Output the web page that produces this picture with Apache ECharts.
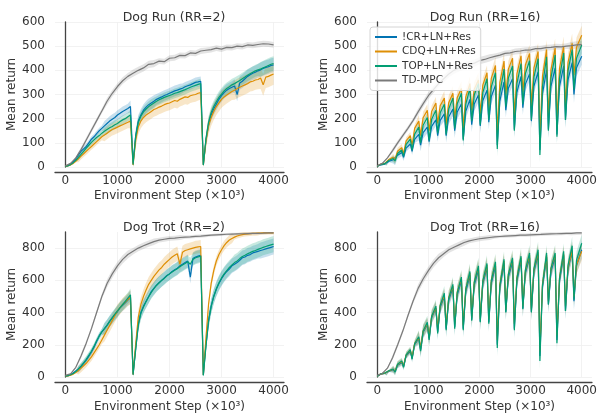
<!DOCTYPE html>
<html><head><meta charset="utf-8">
<script src="https://cdn.jsdelivr.net/npm/echarts@6/dist/echarts.min.js"></script>
<style>html,body{margin:0;padding:0;background:#fff}#c{width:600px;height:414px}</style>
</head><body><div id="c"></div>
<script>
// ---------- data ----------
const NAMES = ['!CR+LN+Res', 'CDQ+LN+Res', 'TOP+LN+Res', 'TD-MPC'];
const X_TICKS = [0, 1000, 2000, 3000, 4000];
const RUN_Y_TICKS = [0, 100, 200, 300, 400, 500, 600];
const TROT_Y_TICKS = [0, 200, 400, 600, 800];

const X50 = [0,50,100,150,200,250,300,350,400,450,500,550,600,650,700,750,800,850,900,950,
1000,1050,1100,1150,1200,1250,1300,1350,1400,1450,1500,1550,1600,1650,1700,1750,1800,1850,1900,1950,
2000,2050,2100,2150,2200,2250,2300,2350,2400,2450,2500,2550,2600,2650,2700,2750,2800,2850,2900,2950,
3000,3050,3100,3150,3200,3250,3300,3350,3400,3450,3500,3550,3600,3650,3700,3750,3800,3850,3900,3950,4000];
const X100 = [0,100,200,300,400,500,600,700,800,900,1000,1100,1200,1300,1400,1500,1600,1700,1800,1900,
2000,2100,2200,2300,2400,2500,2600,2700,2800,2900,3000,3100,3200,3300,3400,3500,3600,3700,3800,3900,4000];
const X16 = [0,65,147, 182,232,313, 348,398,480, 515,565,647, 682,732,813, 848,898,980,
1015,1065,1147, 1182,1232,1313, 1348,1398,1480, 1515,1565,1647, 1682,1732,1813, 1848,1898,1980,
2015,2065,2147, 2182,2232,2313, 2348,2398,2480, 2515,2565,2647, 2682,2732,2813, 2848,2898,2980,
3015,3065,3147, 3182,3232,3313, 3348,3398,3480, 3515,3565,3647, 3682,3732,3813, 3848,3898,4000];

// Dog Run (RR=2)
const RUN2_ICR = [3,6,12,22,35,50,65,75,85,100,115,125,138,150,160,170,180,190,198,205,215,222,230,236,242,250,
15,
130,190,215,235,248,258,265,272,280,285,290,296,300,305,310,315,318,322,326,332,336,340,345,350,352,355,
10,
110,175,215,240,260,280,295,308,318,325,330,335,300,348,355,365,375,382,388,392,398,402,408,412,415,420,422];
const RUN2_CDQ = [3,5,9,15,24,34,45,55,65,75,85,95,105,115,125,132,140,148,155,160,165,170,175,180,185,190,
8,
110,165,190,205,215,222,230,238,242,248,252,258,262,265,270,275,272,280,285,290,288,295,298,300,305,308,
8,
105,170,205,230,250,265,280,290,298,305,312,318,325,330,335,340,345,352,355,360,362,368,340,372,375,380,385];
const RUN2_TOP = [3,5,10,18,28,40,52,65,78,90,102,112,122,130,140,148,155,162,168,175,180,188,195,200,208,215,
10,
125,185,210,228,240,250,258,265,272,278,283,288,292,296,300,305,308,312,316,320,325,330,334,338,342,345,
8,
115,185,225,250,270,288,302,315,325,332,340,345,352,358,365,372,380,386,392,398,402,405,410,415,420,425,428];
const RUN2_TDMPC = [5,15,38,72,112,152,192,232,272,305,333,357,375,388,400,410,425,428,438,436,
450,452,462,461,472,470,480,483,486,492,488,495,494,500,498,505,503,507,510,509,505];

// Dog Run (RR=16)  (per reset period: value after reset, recovering, before next reset)
const RUN16_ICR = [3,9,12, 10,24,30, 22,49,60, 40,78,95, 65,114,135, 90,142,165,
105,168,195, 130,193,220, 130,207,240, 150,228,262, 115,230,280, 175,261,298,
170,274,318, 185,292,338, 90,273,352, 235,326,365, 155,309,375, 245,343,385,
190,334,395, 70,302,402, 155,334,410, 135,333,418, 195,361,432, 300,411,458];
const RUN16_CDQ = [3,11,15, 12,32,40, 30,65,80, 55,108,130, 90,160,190, 130,204,235,
150,230,265, 180,254,285, 175,266,305, 200,288,325, 160,290,345, 235,322,360,
220,339,390, 245,368,420, 140,349,438, 300,405,450, 210,385,460, 310,422,470,
250,410,478, 120,376,486, 210,403,492, 190,407,500, 250,433,512, 380,496,545];
const RUN16_TOP = [3,10,14, 10,28,35, 25,56,70, 45,94,115, 70,136,165, 100,173,205,
110,198,235, 140,224,260, 135,240,285, 160,262,305, 110,260,325, 190,298,345,
175,308,365, 195,332,390, 75,306,405, 250,368,418, 150,345,428, 260,386,440,
195,372,448, 50,334,456, 150,369,463, 125,368,472, 195,399,486, 320,450,505];
const RUN16_TDMPC = [5,15,38,68,100,130,160,192,228,262,295,320,345,365,385,400,410,418,425,430,
440,445,452,458,463,470,472,478,480,484,485,490,490,494,495,498,497,500,502,505,506];

// Dog Trot (RR=2)
const TROT2_ICR = [5,8,15,25,38,50,65,85,105,130,155,185,220,255,280,300,320,345,365,385,405,430,445,460,478,495,
15,
180,330,400,440,470,500,530,550,570,585,600,615,630,640,655,665,675,690,700,710,720,620,735,745,750,755,
12,
200,350,440,500,545,580,610,635,655,670,690,700,710,725,740,745,755,760,770,775,780,785,790,795,800,805,810];
const TROT2_CDQ = [5,7,12,18,28,40,55,70,85,105,125,150,175,200,230,260,290,320,350,380,410,430,450,465,480,495,
15,
200,370,450,500,540,575,600,625,645,665,680,700,715,730,745,755,765,700,775,785,790,795,800,805,808,810,
12,
240,450,580,660,720,760,790,815,835,850,860,868,875,880,884,887,888,890,891,892,893,893,894,894,895,895,895];
const TROT2_TOP = [5,8,14,22,34,50,68,88,110,135,160,190,225,255,280,300,322,345,368,390,410,430,450,470,490,510,
15,
170,320,395,435,468,498,525,548,568,585,600,612,628,640,652,662,672,685,695,705,715,700,730,740,745,750,
10,
190,345,435,500,548,585,615,640,660,680,695,710,720,735,748,755,765,772,780,785,792,798,805,810,815,820,825];
const TROT2_TDMPC = [10,20,60,130,210,300,400,500,580,640,690,730,760,780,800,815,828,840,850,855,
860,862,866,868,870,873,875,878,880,882,884,886,887,888,889,890,891,892,893,895,895];

// Dog Trot (RR=16)
const TROT16_ICR = [5,17,22, 15,36,45, 32,73,90, 65,132,160, 115,202,240, 170,278,325,
240,370,425, 280,434,500, 300,478,555, 310,512,598, 300,532,632, 355,572,665,
345,580,680, 340,585,690, 200,554,705, 405,622,715, 300,598,725, 425,646,740,
405,654,760, 130,560,745, 450,656,745, 230,598,755, 410,669,780, 470,694,790];
const TROT16_CDQ = [5,18,24, 18,39,48, 35,77,95, 70,136,165, 125,209,245, 180,285,330,
250,376,430, 300,444,505, 320,492,565, 330,526,610, 320,548,645, 370,587,680,
360,594,695, 360,602,705, 230,573,720, 420,637,730, 330,617,740, 440,660,755,
420,668,775, 160,576,755, 470,673,760, 260,614,765, 440,682,785, 500,696,780];
const TROT16_TOP = [5,19,25, 15,40,50, 30,79,100, 60,137,170, 110,208,250, 160,286,340,
230,377,440, 270,445,520, 290,490,575, 300,524,620, 290,546,655, 350,588,690,
340,596,705, 330,600,715, 180,565,730, 400,638,740, 290,612,750, 420,665,770,
400,673,790, 100,569,770, 450,674,770, 210,609,780, 410,694,815, 480,725,830];
const TROT16_TDMPC = [10,22,55,120,200,285,380,470,550,610,660,705,740,765,790,805,820,835,845,852,
858,862,866,870,872,874,876,878,880,880,882,884,885,887,888,889,890,891,892,894,895];

// shaded-band half widths, one value per 500 steps
const RUN2_ICR_SD = [4,12,20,25,22,20,25,28,30];
const RUN2_CDQ_SD = [4,14,25,30,30,30,35,40,45];
const RUN2_TOP_SD = [4,12,18,22,20,20,25,25,30];
const RUN2_TDMPC_SD = [3,10,14,15,12,12,12,12,12];
const RUN16_ICR_SD = [4,15,25,30,30,30,30,35,35];
const RUN16_CDQ_SD = [4,15,25,30,30,35,35,40,40];
const RUN16_TOP_SD = [4,14,20,25,25,30,30,30,35];
const RUN16_TDMPC_SD = [3,10,14,15,15,12,12,12,15];
const TROT2_ICR_SD = [5,20,35,40,40,40,45,45,50];
const TROT2_CDQ_SD = [5,25,40,45,45,40,30,15,10];
const TROT2_TOP_SD = [5,20,35,40,40,40,45,50,50];
const TROT2_TDMPC_SD = [5,15,25,20,15,10,8,8,8];
const TROT16_ICR_SD = [5,20,40,45,50,50,50,50,55];
const TROT16_CDQ_SD = [5,20,40,45,50,50,50,50,55];
const TROT16_TOP_SD = [5,20,40,45,50,50,50,50,55];
const TROT16_TDMPC_SD = [5,15,25,20,15,10,10,10,12];

// ---------- layout / style ----------
const COLORS = ['#0173B2', '#DE8F05', '#029E73', '#7a7a7a'];
const FONT = 'DejaVu Sans';
const TXT = '#333333';
const PANELS = [
  {title:'Dog Run (RR=2)', grid:{left:55, top:22, width:229, height:145}, tx:169, ty:6, ymax:600, yint:100, yticks:RUN_Y_TICKS,
   lines:[[X50,RUN2_ICR,RUN2_ICR_SD],[X50,RUN2_CDQ,RUN2_CDQ_SD],[X50,RUN2_TOP,RUN2_TOP_SD],[X100,RUN2_TDMPC,RUN2_TDMPC_SD]]},
  {title:'Dog Run (RR=16)', grid:{left:367, top:22, width:226, height:145}, tx:480, ty:6, ymax:600, yint:100, yticks:RUN_Y_TICKS,
   lines:[[X16,RUN16_ICR,RUN16_ICR_SD],[X16,RUN16_CDQ,RUN16_CDQ_SD],[X16,RUN16_TOP,RUN16_TOP_SD],[X100,RUN16_TDMPC,RUN16_TDMPC_SD]]},
  {title:'Dog Trot (RR=2)', grid:{left:55, top:232, width:229, height:145}, tx:169, ty:216, ymax:900, yint:200, yticks:TROT_Y_TICKS,
   lines:[[X50,TROT2_ICR,TROT2_ICR_SD],[X50,TROT2_CDQ,TROT2_CDQ_SD],[X50,TROT2_TOP,TROT2_TOP_SD],[X100,TROT2_TDMPC,TROT2_TDMPC_SD]]},
  {title:'Dog Trot (RR=16)', grid:{left:367, top:232, width:226, height:145}, tx:480, ty:216, ymax:900, yint:200, yticks:TROT_Y_TICKS,
   lines:[[X16,TROT16_ICR,TROT16_ICR_SD],[X16,TROT16_CDQ,TROT16_CDQ_SD],[X16,TROT16_TOP,TROT16_TOP_SD],[X100,TROT16_TDMPC,TROT16_TDMPC_SD]]}
];

function rgba(hex, a){
  const n = parseInt(hex.slice(1), 16);
  return 'rgba(' + ((n>>16)&255) + ',' + ((n>>8)&255) + ',' + (n&255) + ',' + a + ')';
}

const grids = [], xAxes = [], yAxes = [], titles = [], bands = [], lines = [];
PANELS.forEach((p, gi) => {
  grids.push(Object.assign({containLabel:false}, p.grid));
  titles.push({text:p.title, left:p.tx, top:p.ty, textAlign:'center',
    textStyle:{fontFamily:FONT, fontSize:12.5, fontWeight:'normal', color:TXT}});
  xAxes.push({type:'value', gridIndex:gi, min:-200, max:4200, offset:5,
    axisLine:{show:true, onZero:false, lineStyle:{color:'#444', width:1.3}},
    axisTick:{show:false, customValues:X_TICKS},
    axisLabel:{customValues:X_TICKS, formatter:v => String(v), fontFamily:FONT, fontSize:12, color:TXT, margin:3},
    splitLine:{show:true, lineStyle:{color:'#efefef', width:0.8}},
    name:'Environment Step (×10³)', nameLocation:'middle', nameGap: gi < 2 ? 18 : 19,
    nameTextStyle:{fontFamily:FONT, fontSize:12, color:TXT}});
  yAxes.push({type:'value', gridIndex:gi, min:0, max:p.ymax, interval:p.yint, offset:6,
    axisLine:{show:true, lineStyle:{color:'#444', width:1.3}},
    axisTick:{show:false, customValues:p.yticks},
    axisLabel:{customValues:p.yticks, formatter:v => String(v), fontFamily:FONT, fontSize:12, color:TXT, margin:4},
    splitLine:{show:true, lineStyle:{color:'#efefef', width:0.8}},
    name:'Mean return', nameLocation:'middle', nameGap:25, nameRotate:90,
    nameTextStyle:{fontFamily:FONT, fontSize:12, color:TXT}});
  p.lines.forEach((ln, si) => {
    const xs = ln[0], ys = ln[1], sd = ln[2];
    const color = COLORS[si];
    const pts = xs.map((x, i) => {
      const s = sd[Math.min(sd.length - 1, Math.round(x / 500))];
      return [x, Math.max(0, ys[i] - s), Math.min(p.ymax, ys[i] + s)];
    });
    bands.push({type:'custom', xAxisIndex:gi, yAxisIndex:gi, data:pts, silent:true, z:1, clip:true,
      animation:false, encode:{x:0, y:[1,2]},
      renderItem:(params, api) => {
        if (params.dataIndex !== 0) return null;
        const up = pts.map(q => api.coord([q[0], q[2]]));
        const lo = pts.map(q => api.coord([q[0], q[1]])).reverse();
        return {type:'polygon', shape:{points:up.concat(lo)},
          style:{fill:rgba(color, si === 3 ? 0.2 : 0.22)}, silent:true};
      }});
    lines.push({type:'line', name:NAMES[si], xAxisIndex:gi, yAxisIndex:gi,
      data:xs.map((x, i) => [x, ys[i]]), showSymbol:false, symbol:'none', z:2,
      lineStyle:{width:1.2, color:color}, itemStyle:{color:color}, animation:false, silent:true});
  });
});

const chart = echarts.init(document.getElementById('c'), null, {renderer:'canvas'});
chart.setOption({
  animation:false,
  backgroundColor:'#ffffff',
  textStyle:{fontFamily:FONT},
  title:titles,
  grid:grids,
  xAxis:xAxes,
  yAxis:yAxes,
  legend:{data:NAMES, orient:'vertical', left:370, top:27, z:10,
    icon:'rect', padding:[4,5,4,5], itemWidth:22, itemHeight:2, itemGap:2.5,
    backgroundColor:'rgba(255,255,255,0.82)', borderColor:'#d4d4d4', borderWidth:1, borderRadius:3,
    textStyle:{fontFamily:FONT, fontSize:10.5, color:TXT, lineHeight:12}},
  series:bands.concat(lines)
});
</script></body></html>
